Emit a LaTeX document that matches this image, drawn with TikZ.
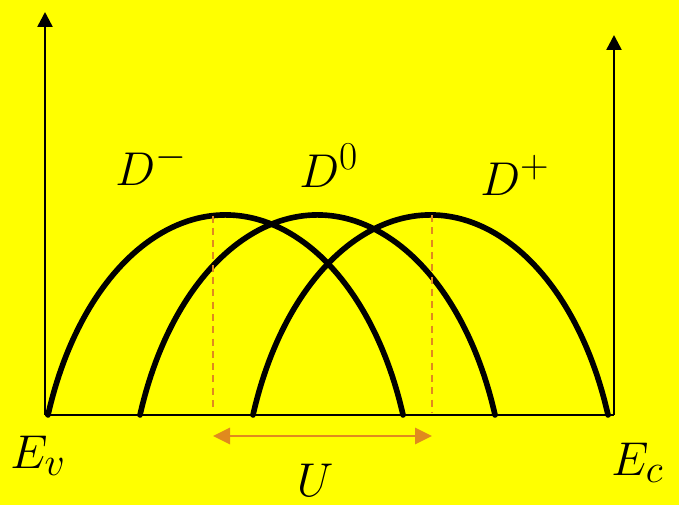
\documentclass[tikz,border=0pt]{standalone}
\usepackage{graphicx}
\usetikzlibrary{arrows.meta}
\definecolor{bgyellow}{RGB}{255,255,0}
\definecolor{dashorange}{RGB}{224,138,30}
\newcommand{\lbl}[1]{\scalebox{1.085}{$#1$}}

\begin{document}
\begin{tikzpicture}[
        band/.style={line width=3.2pt, black, line cap=round},
        axis/.style={-{Triangle[length=0.3cm,width=0.3cm]}, line width=1.4pt, black},
        guide/.style={dashorange, line width=1.4pt, dash pattern=on 4pt off 3pt},
        gap/.style={{Triangle[length=0.34cm,width=0.32cm]}-{Triangle[length=0.34cm,width=0.32cm]}, line width=1.6pt, dashorange},
        lab/.style={inner sep=0pt, font=\Huge}
    ]
    \fill[bgyellow] (0,0) rectangle (13.58,10.1);
    \useasboundingbox (0,0) rectangle (13.58,10.1);
    % axes and band edge
    \coordinate (ev) at (0.9,1.8);
    \coordinate (ec) at (12.28,1.8);
    \coordinate (evtop) at (0.9,9.86);
    \coordinate (ectop) at (12.28,9.4);
    \draw[axis] (ev) -- (evtop);
    \draw[axis] (ec) -- (ectop);
    \draw[line width=1.2pt] (ev) -- (ec);
    % defect levels
    \foreach \x in {0.96, 2.8, 5.06}
        \draw[band] (\x,1.8) arc[start angle=160, end angle=20, x radius=3.778, y radius=6.079];
    % peaks and U
    \coordinate (pm) at (4.26,5.79);
    \coordinate (pp) at (8.64,5.8);
    \coordinate (pmb) at (4.26,1.9);
    \coordinate (ppb) at (8.64,1.85);
    \draw[guide] (pm) -- (pmb);
    \draw[guide] (pp) -- (ppb);
    \coordinate (ul) at (4.26,1.38);
    \coordinate (ur) at (8.64,1.38);
    \draw[gap] (ul) -- (ur);
    % labels
    \node[lab, anchor=base west] (dm) at (2.3,6.4) {\lbl{D^-}};
    \node[lab, anchor=base west] (dz) at (5.98,6.36) {\lbl{D^0}};
    \node[lab, anchor=base west] (dp) at (9.6,6.2) {\lbl{D^+}};
    \node[lab, anchor=base west] (lev) at (0.2,0.74) {\lbl{E_v}};
    \node[lab, anchor=base west] (lec) at (12.22,0.6) {\lbl{E_c}};
    \node[lab, anchor=base] (lu) at (6.3,0.18) {\lbl{U}};
\end{tikzpicture}
\end{document}
